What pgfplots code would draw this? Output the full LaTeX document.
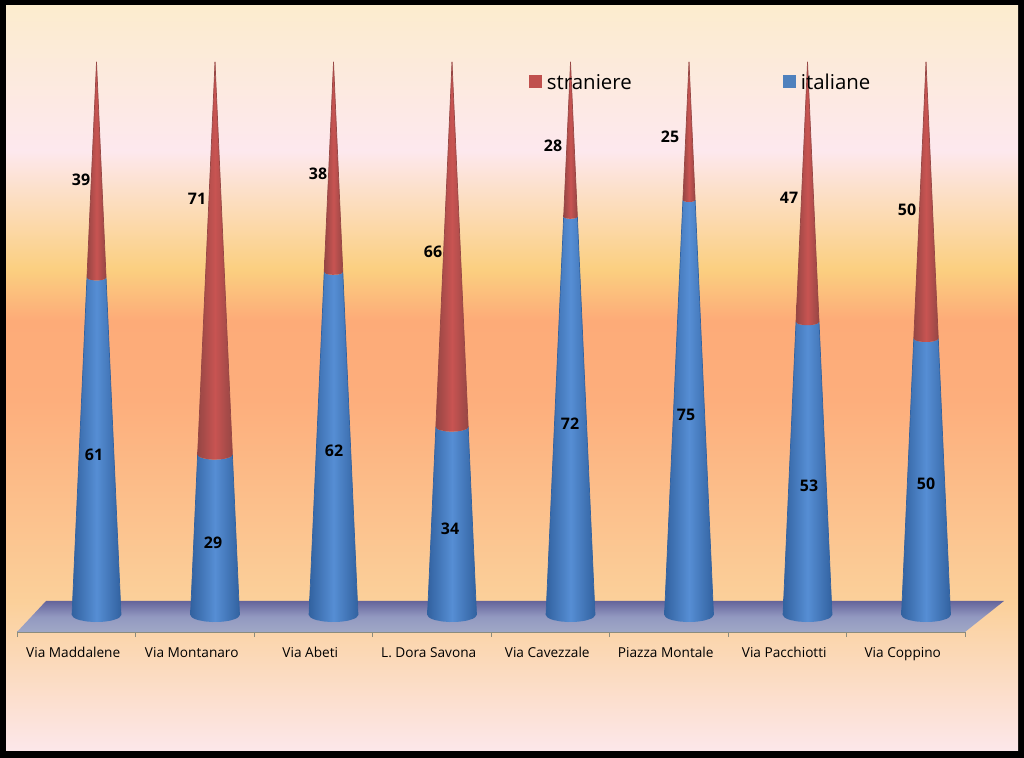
\documentclass[border=0pt]{standalone}
\usepackage{pgfplots}
\usepackage{pgfplotstable}
\usepackage{fontspec}
\setmainfont{Open Sans}
\pgfplotsset{compat=1.18}

\definecolor{blueedge}{RGB}{50,98,160}
\definecolor{bluemid}{RGB}{86,142,212}
\definecolor{rededge}{RGB}{150,70,68}
\definecolor{redmid}{RGB}{200,84,82}
\definecolor{tickcol}{RGB}{140,140,125}
\definecolor{floorback}{RGB}{100,100,155}
\definecolor{floormid}{RGB}{146,152,192}
\definecolor{floorfront}{RGB}{160,168,198}
\definecolor{legred}{RGB}{192,80,77}
\definecolor{legblue}{RGB}{79,129,189}

% background of the slide, stops between 25bp (bottom) and 75bp (top)
\pgfdeclareverticalshading{slidebg}{100bp}{
  rgb(0bp)=(0.988,0.906,0.918);
  rgb(25bp)=(0.988,0.906,0.918);
  rgb(35bp)=(0.984,0.816,0.604);
  rgb(48.6bp)=(0.992,0.682,0.486);
  rgb(53.9bp)=(0.992,0.671,0.471);
  rgb(57.3bp)=(0.984,0.812,0.502);
  rgb(65.3bp)=(0.992,0.910,0.933);
  rgb(75bp)=(0.988,0.925,0.808);
  rgb(100bp)=(0.988,0.925,0.808)}

% unit outline of one piece of a cone: t=0 lower arc, t=1 upper arc
\pgfplotstableread{
t u d
0 -1.000 0.000
0 -0.950 0.312
0 -0.850 0.527
0 -0.700 0.714
0 -0.400 0.917
0 -0.100 0.995
0 0.300 0.954
0 0.600 0.800
0 0.850 0.527
0 0.950 0.312
0 1.000 0.000
1 1.000 0.000
1 0.950 0.312
1 0.850 0.527
1 0.600 0.800
1 0.300 0.954
1 -0.100 0.995
1 -0.400 0.917
1 -0.700 0.714
1 -0.850 0.527
1 -0.950 0.312
1 -1.000 0.000
}\coneprofile

\pgfplotstableread{
t d
0 0
1 0
}\sideprofile

% #1 options, #2 category, #3 low, #4 high
\newcommand\conepiece[4]{%
  \addplot[forget plot, draw=none, #1] table[
    x expr={#2+0.171+0.2068*(1-(#3+(#4-#3)*\thisrow{t})/100)*\thisrow{u}},
    y expr={(#3+(#4-#3)*\thisrow{t})-1.27*(1-(#3+(#4-#3)*\thisrow{t})/100)*\thisrow{d}}
  ] {\coneprofile} -- cycle;
}
% darker silhouette line: #1 colour, #2 category, #3 low, #4 high, #5 side
\newcommand\coneside[5]{%
  \addplot[forget plot, draw=#1, line width=0.7bp] table[
    x expr={#2+0.171+#5*0.2068*(1-(#3+(#4-#3)*\thisrow{t})/100)},
    y expr={#3+(#4-#3)*\thisrow{t}}
  ] {\sideprofile};
}
\newcommand\cone[2]{%
  \conepiece{left color=blueedge, right color=blueedge, middle color=bluemid}{#1}{0}{#2}
  \conepiece{left color=rededge, right color=rededge, middle color=redmid}{#1}{#2}{100}
  \coneside{blueedge}{#1}{0}{#2}{-1}
  \coneside{blueedge}{#1}{0}{#2}{1}
  \coneside{rededge}{#1}{#2}{100}{-1}
  \coneside{rededge}{#1}{#2}{100}{1}
}

\begin{document}
\begin{tikzpicture}[x=1bp, y=1bp]
\fill[black] (0,0) rectangle (1024,758);
\shade[shading=slidebg] (6,7) rectangle (1018,752);
\begin{axis}[
    at={(17bp,126bp)},
    anchor=south west,
    scale only axis,
    width=948bp,
    height=570bp,
    xmin=-0.5, xmax=7.5,
    ymin=-3.07, ymax=100,
    clip=false,
    axis y line=none,
    axis x line*=bottom,
    x axis line style={draw=tickcol, line width=2bp, -},
    xtick={-0.5,0.5,1.5,2.5,3.5,4.5,5.5,6.5,7.5},
    x tick label as interval,
    xticklabels={Via Maddalene,Via Montanaro,Via Abeti,L. Dora Savona,Via Cavezzale,Piazza Montale,Via Pacchiotti,Via Coppino},
    xticklabel style={font=\fontsize{13.7}{15}\selectfont, text height=10bp, text depth=3bp, yshift=-7bp, xshift=-3bp},
    xtick align=outside,
    xtick pos=bottom,
    major tick length=5bp,
    tick style={draw=tickcol, line width=0.8bp},
    legend columns=2,
    legend style={
        at={(axis cs:3.792,98.5)}, anchor=north west,
        draw=none, fill=none,
        font=\fontsize{20.5}{23}\selectfont,
        /tikz/every even column/.style={column sep=149bp},
    },
]
% floor
\addplot[forget plot, draw=none, top color=floorback, bottom color=floorfront, middle color=floormid]
    coordinates {(-0.5,-3.07) (-0.255,2.54) (7.829,2.54) (7.5,-3.07)} -- cycle;

\addlegendimage{area legend, legend image code/.code={\fill[draw=none, fill=legred] (0bp,-5bp) rectangle (13bp,8bp); \path (16bp,0bp);}}
\addlegendentry{straniere}
\addlegendimage{area legend, legend image code/.code={\fill[draw=none, fill=legblue] (0bp,-5bp) rectangle (13bp,8bp); \path (16bp,0bp);}}
\addlegendentry{italiane}

\cone{0}{61}
\cone{1}{29}
\cone{2}{62}
\cone{3}{34}
\cone{4}{72}
\cone{5}{75}
\cone{6}{53}
\cone{7}{50}
\end{axis}

% data labels, placed where the slide has them
\begin{scope}[every node/.style={font=\fontsize{16}{18}\selectfont\bfseries, inner sep=0pt}]
\node at (81,578) {39};
\node at (197,559) {71};
\node at (318,584) {38};
\node at (433,506) {66};
\node at (553,612) {28};
\node at (670,621) {25};
\node at (789,560) {47};
\node at (907,548) {50};
\node at (94,303) {61};
\node at (213,215) {29};
\node at (334,307) {62};
\node at (450,229) {34};
\node at (570,334) {72};
\node at (686,343) {75};
\node at (809,272) {53};
\node at (926,274) {50};
\end{scope}
\end{tikzpicture}
\end{document}
